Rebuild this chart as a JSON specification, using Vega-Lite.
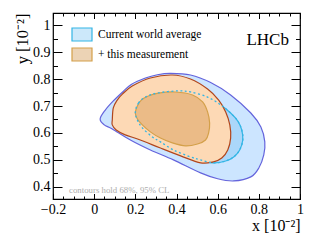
{
  "$schema": "https://vega.github.io/schema/vega-lite/v6.json",
  "width": 247,
  "height": 186,
  "autosize": "none",
  "padding": {"left": 53, "top": 13, "right": 34, "bottom": 42},
  "background": "white",
  "config": {"view": {"stroke": "#000", "strokeWidth": 1.2}, "font": "Liberation Serif, Times New Roman, serif"},
  "datasets": {
    "poly": [
      {"c": "World average 95% CL", "i": 1, "x": 0.029, "y": 0.652},
      {"c": "World average 95% CL", "i": 2, "x": 0.054, "y": 0.685},
      {"c": "World average 95% CL", "i": 3, "x": 0.093, "y": 0.719},
      {"c": "World average 95% CL", "i": 4, "x": 0.141, "y": 0.754},
      {"c": "World average 95% CL", "i": 5, "x": 0.180, "y": 0.780},
      {"c": "World average 95% CL", "i": 6, "x": 0.249, "y": 0.804},
      {"c": "World average 95% CL", "i": 7, "x": 0.307, "y": 0.816},
      {"c": "World average 95% CL", "i": 8, "x": 0.371, "y": 0.821},
      {"c": "World average 95% CL", "i": 9, "x": 0.468, "y": 0.815},
      {"c": "World average 95% CL", "i": 10, "x": 0.566, "y": 0.787},
      {"c": "World average 95% CL", "i": 11, "x": 0.663, "y": 0.741},
      {"c": "World average 95% CL", "i": 12, "x": 0.761, "y": 0.674},
      {"c": "World average 95% CL", "i": 13, "x": 0.810, "y": 0.622},
      {"c": "World average 95% CL", "i": 14, "x": 0.829, "y": 0.567},
      {"c": "World average 95% CL", "i": 15, "x": 0.824, "y": 0.519},
      {"c": "World average 95% CL", "i": 16, "x": 0.800, "y": 0.470},
      {"c": "World average 95% CL", "i": 17, "x": 0.761, "y": 0.437},
      {"c": "World average 95% CL", "i": 18, "x": 0.678, "y": 0.422},
      {"c": "World average 95% CL", "i": 19, "x": 0.600, "y": 0.430},
      {"c": "World average 95% CL", "i": 20, "x": 0.517, "y": 0.452},
      {"c": "World average 95% CL", "i": 21, "x": 0.385, "y": 0.500},
      {"c": "World average 95% CL", "i": 22, "x": 0.273, "y": 0.537},
      {"c": "World average 95% CL", "i": 23, "x": 0.176, "y": 0.574},
      {"c": "World average 95% CL", "i": 24, "x": 0.088, "y": 0.615},
      {"c": "World average 95% CL", "i": 25, "x": 0.049, "y": 0.630},

      {"c": "Current world average", "i": 1, "x": 0.200, "y": 0.678},
      {"c": "Current world average", "i": 2, "x": 0.215, "y": 0.711},
      {"c": "Current world average", "i": 3, "x": 0.249, "y": 0.733},
      {"c": "Current world average", "i": 4, "x": 0.307, "y": 0.748},
      {"c": "Current world average", "i": 5, "x": 0.405, "y": 0.756},
      {"c": "Current world average", "i": 6, "x": 0.468, "y": 0.752},
      {"c": "Current world average", "i": 7, "x": 0.551, "y": 0.733},
      {"c": "Current world average", "i": 8, "x": 0.615, "y": 0.704},
      {"c": "Current world average", "i": 9, "x": 0.663, "y": 0.674},
      {"c": "Current world average", "i": 10, "x": 0.698, "y": 0.644},
      {"c": "Current world average", "i": 11, "x": 0.717, "y": 0.611},
      {"c": "Current world average", "i": 12, "x": 0.722, "y": 0.574},
      {"c": "Current world average", "i": 13, "x": 0.707, "y": 0.537},
      {"c": "Current world average", "i": 14, "x": 0.678, "y": 0.511},
      {"c": "Current world average", "i": 15, "x": 0.639, "y": 0.496},
      {"c": "Current world average", "i": 16, "x": 0.580, "y": 0.489},
      {"c": "Current world average", "i": 17, "x": 0.517, "y": 0.500},
      {"c": "Current world average", "i": 18, "x": 0.468, "y": 0.511},
      {"c": "Current world average", "i": 19, "x": 0.385, "y": 0.537},
      {"c": "Current world average", "i": 20, "x": 0.322, "y": 0.567},
      {"c": "Current world average", "i": 21, "x": 0.283, "y": 0.585},
      {"c": "Current world average", "i": 22, "x": 0.234, "y": 0.619},
      {"c": "Current world average", "i": 23, "x": 0.210, "y": 0.648},

      {"c": "Combined 95% CL", "i": 1, "x": 0.088, "y": 0.648},
      {"c": "Combined 95% CL", "i": 2, "x": 0.093, "y": 0.693},
      {"c": "Combined 95% CL", "i": 3, "x": 0.112, "y": 0.722},
      {"c": "Combined 95% CL", "i": 4, "x": 0.137, "y": 0.744},
      {"c": "Combined 95% CL", "i": 5, "x": 0.185, "y": 0.774},
      {"c": "Combined 95% CL", "i": 6, "x": 0.273, "y": 0.804},
      {"c": "Combined 95% CL", "i": 7, "x": 0.380, "y": 0.815},
      {"c": "Combined 95% CL", "i": 8, "x": 0.468, "y": 0.800},
      {"c": "Combined 95% CL", "i": 9, "x": 0.551, "y": 0.763},
      {"c": "Combined 95% CL", "i": 10, "x": 0.605, "y": 0.722},
      {"c": "Combined 95% CL", "i": 11, "x": 0.639, "y": 0.678},
      {"c": "Combined 95% CL", "i": 12, "x": 0.659, "y": 0.630},
      {"c": "Combined 95% CL", "i": 13, "x": 0.663, "y": 0.581},
      {"c": "Combined 95% CL", "i": 14, "x": 0.649, "y": 0.537},
      {"c": "Combined 95% CL", "i": 15, "x": 0.620, "y": 0.507},
      {"c": "Combined 95% CL", "i": 16, "x": 0.580, "y": 0.493},
      {"c": "Combined 95% CL", "i": 17, "x": 0.517, "y": 0.489},
      {"c": "Combined 95% CL", "i": 18, "x": 0.420, "y": 0.515},
      {"c": "Combined 95% CL", "i": 19, "x": 0.322, "y": 0.544},
      {"c": "Combined 95% CL", "i": 20, "x": 0.224, "y": 0.574},
      {"c": "Combined 95% CL", "i": 21, "x": 0.151, "y": 0.593},
      {"c": "Combined 95% CL", "i": 22, "x": 0.107, "y": 0.611},
      {"c": "Combined 95% CL", "i": 23, "x": 0.088, "y": 0.630},

      {"c": "+ this measurement", "i": 1, "x": 0.200, "y": 0.674},
      {"c": "+ this measurement", "i": 2, "x": 0.210, "y": 0.700},
      {"c": "+ this measurement", "i": 3, "x": 0.229, "y": 0.722},
      {"c": "+ this measurement", "i": 4, "x": 0.263, "y": 0.737},
      {"c": "+ this measurement", "i": 5, "x": 0.312, "y": 0.748},
      {"c": "+ this measurement", "i": 6, "x": 0.395, "y": 0.752},
      {"c": "+ this measurement", "i": 7, "x": 0.478, "y": 0.741},
      {"c": "+ this measurement", "i": 8, "x": 0.527, "y": 0.715},
      {"c": "+ this measurement", "i": 9, "x": 0.551, "y": 0.678},
      {"c": "+ this measurement", "i": 10, "x": 0.561, "y": 0.637},
      {"c": "+ this measurement", "i": 11, "x": 0.556, "y": 0.600},
      {"c": "+ this measurement", "i": 12, "x": 0.541, "y": 0.574},
      {"c": "+ this measurement", "i": 13, "x": 0.502, "y": 0.559},
      {"c": "+ this measurement", "i": 14, "x": 0.444, "y": 0.552},
      {"c": "+ this measurement", "i": 15, "x": 0.380, "y": 0.563},
      {"c": "+ this measurement", "i": 16, "x": 0.322, "y": 0.581},
      {"c": "+ this measurement", "i": 17, "x": 0.273, "y": 0.604},
      {"c": "+ this measurement", "i": 18, "x": 0.234, "y": 0.630},
      {"c": "+ this measurement", "i": 19, "x": 0.210, "y": 0.652}
    ]
  },
  "layer": [
    {
      "data": {"name": "poly"},
      "transform": [{"filter": "datum.c === 'World average 95% CL'"}],
      "mark": {"type": "line", "interpolate": "cardinal-closed", "strokeWidth": 1.2},
      "encoding": {
        "x": {"field": "x", "type": "quantitative", "scale": {"domain": [-0.2, 1], "nice": false, "zero": false},
          "axis": {"orient": "bottom", "values": [-0.2, 0, 0.2, 0.4, 0.6, 0.8, 1], "format": ".1~f", "tickSize": -5.5, "tickColor": "#000", "tickWidth": 1,
            "labelFont": "Liberation Serif, Times New Roman, serif", "labelFontSize": 14, "labelColor": "#000", "labelPadding": 9, "labelFlush": false, "labelOverlap": false,
            "domain": false, "grid": false, "title": "x [10⁻²]", "titleFont": "Liberation Serif, Times New Roman, serif", "titleFontSize": 16, "titleFontWeight": "normal", "titleColor": "#000",
            "titleAlign": "right", "titleBaseline": "alphabetic", "titleX": 247, "titleY": 31.5}},
        "y": {"field": "y", "type": "quantitative", "scale": {"domain": [0.355, 1.045], "nice": false, "zero": false},
          "axis": {"orient": "left", "values": [0.4, 0.5, 0.6, 0.7, 0.8, 0.9, 1], "format": ".1~f", "tickSize": -9, "tickColor": "#000", "tickWidth": 1,
            "labelFont": "Liberation Serif, Times New Roman, serif", "labelFontSize": 14, "labelColor": "#000", "labelPadding": 12, "labelOverlap": false,
            "domain": false, "grid": false, "title": "y [10⁻²]", "titleFont": "Liberation Serif, Times New Roman, serif", "titleFontSize": 16.5, "titleFontWeight": "normal", "titleColor": "#000",
            "titleAngle": -90, "titleAlign": "right", "titleBaseline": "alphabetic", "titleX": -26, "titleY": 0}},
        "order": {"field": "i", "type": "quantitative"},
        "fill": {"field": "c", "type": "nominal",
          "scale": {"domain": ["Current world average", "+ this measurement", "World average 95% CL", "Combined 95% CL"], "range": ["rgba(110,190,240,0.35)", "rgba(205,140,60,0.38)", "#cce5ff", "#fdd9b5"]},
          "legend": {"title": null, "values": ["Current world average", "+ this measurement"], "orient": "none", "legendX": 18, "legendY": 10.5, "symbolType": "M-1,-0.65H1V0.65H-1Z", "symbolSize": 400, "symbolStrokeWidth": 1.2, "labelFont": "Liberation Serif, Times New Roman, serif", "labelFontSize": 11.5, "labelColor": "#000", "labelOffset": 5, "rowPadding": 0, "padding": 0}},
        "stroke": {"field": "c", "type": "nominal",
          "scale": {"domain": ["Current world average", "+ this measurement", "World average 95% CL", "Combined 95% CL"], "range": ["#33b5e5", "#d4a04a", "#6464dc", "#b1461c"]},
          "legend": {"title": null, "values": ["Current world average", "+ this measurement"], "orient": "none", "legendX": 18, "legendY": 10.5, "symbolType": "M-1,-0.65H1V0.65H-1Z", "symbolSize": 400, "symbolStrokeWidth": 1.2, "labelFont": "Liberation Serif, Times New Roman, serif", "labelFontSize": 11.5, "labelColor": "#000", "labelOffset": 5, "rowPadding": 0, "padding": 0}}
      }
    },
    {
      "data": {"name": "poly"},
      "transform": [{"filter": "datum.c === 'Current world average'"}],
      "mark": {"type": "line", "interpolate": "cardinal-closed", "strokeWidth": 1.2},
      "encoding": {
        "x": {"field": "x", "type": "quantitative", "scale": {"domain": [-0.2, 1], "nice": false, "zero": false},
          "axis": {"orient": "bottom", "values": [-0.2, -0.15, -0.1, -0.05, 0, 0.05, 0.1, 0.15, 0.2, 0.25, 0.3, 0.35, 0.4, 0.45, 0.5, 0.55, 0.6, 0.65, 0.7, 0.75, 0.8, 0.85, 0.9, 0.95, 1], "tickSize": -3, "tickColor": "#000", "tickWidth": 1, "labels": false, "domain": false, "grid": false, "title": null}},
        "y": {"field": "y", "type": "quantitative", "scale": {"domain": [0.355, 1.045], "nice": false, "zero": false},
          "axis": {"orient": "left", "values": [0.4, 0.45, 0.5, 0.55, 0.6, 0.65, 0.7, 0.75, 0.8, 0.85, 0.9, 0.95, 1], "tickSize": -4.5, "tickColor": "#000", "tickWidth": 1, "labels": false, "domain": false, "grid": false, "title": null}},
        "order": {"field": "i", "type": "quantitative"},
        "fill": {"field": "c", "type": "nominal",
          "scale": {"domain": ["Current world average", "+ this measurement", "World average 95% CL", "Combined 95% CL"], "range": ["rgba(110,190,240,0.35)", "rgba(205,140,60,0.38)", "#cce5ff", "#fdd9b5"]},
          "legend": {"title": null, "values": ["Current world average", "+ this measurement"], "orient": "none", "legendX": 18, "legendY": 10.5, "symbolType": "M-1,-0.65H1V0.65H-1Z", "symbolSize": 400, "symbolStrokeWidth": 1.2, "labelFont": "Liberation Serif, Times New Roman, serif", "labelFontSize": 11.5, "labelColor": "#000", "labelOffset": 5, "rowPadding": 0, "padding": 0}},
        "stroke": {"field": "c", "type": "nominal",
          "scale": {"domain": ["Current world average", "+ this measurement", "World average 95% CL", "Combined 95% CL"], "range": ["#33b5e5", "#d4a04a", "#6464dc", "#b1461c"]},
          "legend": {"title": null, "values": ["Current world average", "+ this measurement"], "orient": "none", "legendX": 18, "legendY": 10.5, "symbolType": "M-1,-0.65H1V0.65H-1Z", "symbolSize": 400, "symbolStrokeWidth": 1.2, "labelFont": "Liberation Serif, Times New Roman, serif", "labelFontSize": 11.5, "labelColor": "#000", "labelOffset": 5, "rowPadding": 0, "padding": 0}}
      }
    },
    {
      "data": {"name": "poly"},
      "transform": [{"filter": "datum.c === 'Combined 95% CL'"}],
      "mark": {"type": "line", "interpolate": "cardinal-closed", "strokeWidth": 1.2},
      "encoding": {
        "x": {"field": "x", "type": "quantitative", "scale": {"domain": [-0.2, 1], "nice": false, "zero": false},
          "axis": {"orient": "top", "values": [-0.2, 0, 0.2, 0.4, 0.6, 0.8, 1], "tickSize": -5.5, "tickColor": "#000", "tickWidth": 1, "labels": false, "domain": false, "grid": false, "title": null}},
        "y": {"field": "y", "type": "quantitative", "scale": {"domain": [0.355, 1.045], "nice": false, "zero": false},
          "axis": {"orient": "right", "values": [0.4, 0.5, 0.6, 0.7, 0.8, 0.9, 1], "tickSize": -9, "tickColor": "#000", "tickWidth": 1, "labels": false, "domain": false, "grid": false, "title": null}},
        "order": {"field": "i", "type": "quantitative"},
        "fill": {"field": "c", "type": "nominal",
          "scale": {"domain": ["Current world average", "+ this measurement", "World average 95% CL", "Combined 95% CL"], "range": ["rgba(110,190,240,0.35)", "rgba(205,140,60,0.38)", "#cce5ff", "#fdd9b5"]},
          "legend": {"title": null, "values": ["Current world average", "+ this measurement"], "orient": "none", "legendX": 18, "legendY": 10.5, "symbolType": "M-1,-0.65H1V0.65H-1Z", "symbolSize": 400, "symbolStrokeWidth": 1.2, "labelFont": "Liberation Serif, Times New Roman, serif", "labelFontSize": 11.5, "labelColor": "#000", "labelOffset": 5, "rowPadding": 0, "padding": 0}},
        "stroke": {"field": "c", "type": "nominal",
          "scale": {"domain": ["Current world average", "+ this measurement", "World average 95% CL", "Combined 95% CL"], "range": ["#33b5e5", "#d4a04a", "#6464dc", "#b1461c"]},
          "legend": {"title": null, "values": ["Current world average", "+ this measurement"], "orient": "none", "legendX": 18, "legendY": 10.5, "symbolType": "M-1,-0.65H1V0.65H-1Z", "symbolSize": 400, "symbolStrokeWidth": 1.2, "labelFont": "Liberation Serif, Times New Roman, serif", "labelFontSize": 11.5, "labelColor": "#000", "labelOffset": 5, "rowPadding": 0, "padding": 0}}
      }
    },
    {
      "data": {"name": "poly"},
      "transform": [{"filter": "datum.c === '+ this measurement'"}],
      "mark": {"type": "line", "interpolate": "cardinal-closed", "strokeWidth": 1.2},
      "encoding": {
        "x": {"field": "x", "type": "quantitative", "scale": {"domain": [-0.2, 1], "nice": false, "zero": false},
          "axis": {"orient": "top", "values": [-0.2, -0.15, -0.1, -0.05, 0, 0.05, 0.1, 0.15, 0.2, 0.25, 0.3, 0.35, 0.4, 0.45, 0.5, 0.55, 0.6, 0.65, 0.7, 0.75, 0.8, 0.85, 0.9, 0.95, 1], "tickSize": -3, "tickColor": "#000", "tickWidth": 1, "labels": false, "domain": false, "grid": false, "title": null}},
        "y": {"field": "y", "type": "quantitative", "scale": {"domain": [0.355, 1.045], "nice": false, "zero": false},
          "axis": {"orient": "right", "values": [0.4, 0.45, 0.5, 0.55, 0.6, 0.65, 0.7, 0.75, 0.8, 0.85, 0.9, 0.95, 1], "tickSize": -4.5, "tickColor": "#000", "tickWidth": 1, "labels": false, "domain": false, "grid": false, "title": null}},
        "order": {"field": "i", "type": "quantitative"},
        "fill": {"field": "c", "type": "nominal",
          "scale": {"domain": ["Current world average", "+ this measurement", "World average 95% CL", "Combined 95% CL"], "range": ["rgba(110,190,240,0.35)", "rgba(205,140,60,0.38)", "#cce5ff", "#fdd9b5"]},
          "legend": {"title": null, "values": ["Current world average", "+ this measurement"], "orient": "none", "legendX": 18, "legendY": 10.5, "symbolType": "M-1,-0.65H1V0.65H-1Z", "symbolSize": 400, "symbolStrokeWidth": 1.2, "labelFont": "Liberation Serif, Times New Roman, serif", "labelFontSize": 11.5, "labelColor": "#000", "labelOffset": 5, "rowPadding": 0, "padding": 0}},
        "stroke": {"field": "c", "type": "nominal",
          "scale": {"domain": ["Current world average", "+ this measurement", "World average 95% CL", "Combined 95% CL"], "range": ["#33b5e5", "#d4a04a", "#6464dc", "#b1461c"]},
          "legend": {"title": null, "values": ["Current world average", "+ this measurement"], "orient": "none", "legendX": 18, "legendY": 10.5, "symbolType": "M-1,-0.65H1V0.65H-1Z", "symbolSize": 400, "symbolStrokeWidth": 1.2, "labelFont": "Liberation Serif, Times New Roman, serif", "labelFontSize": 11.5, "labelColor": "#000", "labelOffset": 5, "rowPadding": 0, "padding": 0}}
      }
    },
    {
      "data": {"name": "poly"},
      "transform": [{"filter": "datum.c === 'Current world average'"}],
      "mark": {"type": "line", "interpolate": "cardinal-closed", "strokeWidth": 1.3, "stroke": "#33b5e5", "strokeDash": [2, 2.5]},
      "encoding": {
        "x": {"field": "x", "type": "quantitative", "scale": {"domain": [-0.2, 1], "nice": false, "zero": false}, "axis": null},
        "y": {"field": "y", "type": "quantitative", "scale": {"domain": [0.355, 1.045], "nice": false, "zero": false}, "axis": null},
        "order": {"field": "i", "type": "quantitative"}
      }
    },
    {
      "data": {"values": [{"t": "LHCb"}]},
      "mark": {"type": "text", "font": "Liberation Serif, Times New Roman, serif", "fontSize": 17, "align": "right", "baseline": "middle", "color": "#000"},
      "encoding": {
        "text": {"field": "t"},
        "x": {"datum": 0.946, "type": "quantitative", "scale": {"domain": [-0.2, 1], "nice": false, "zero": false}, "axis": null},
        "y": {"datum": 0.944, "type": "quantitative", "scale": {"domain": [0.355, 1.045], "nice": false, "zero": false}, "axis": null}
      }
    },
    {
      "data": {"values": [{"t": "contours hold 68%, 95% CL"}]},
      "mark": {"type": "text", "font": "Liberation Serif, Times New Roman, serif", "fontSize": 8.8, "align": "left", "baseline": "middle", "color": "#aeaeae"},
      "encoding": {
        "text": {"field": "t"},
        "x": {"datum": -0.122, "type": "quantitative", "scale": {"domain": [-0.2, 1], "nice": false, "zero": false}, "axis": null},
        "y": {"datum": 0.389, "type": "quantitative", "scale": {"domain": [0.355, 1.045], "nice": false, "zero": false}, "axis": null}
      }
    }
  ],
  "resolve": {"axis": {"x": "independent", "y": "independent"}}
}
